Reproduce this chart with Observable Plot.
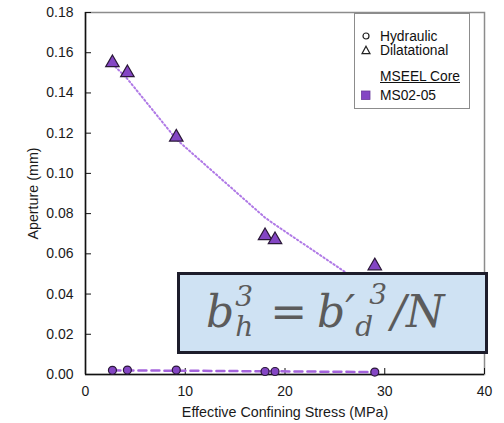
<!DOCTYPE html>
<html>
<head>
<meta charset="utf-8">
<script src="https://cdn.jsdelivr.net/npm/d3@7"></script>
<script src="https://cdn.jsdelivr.net/npm/@observablehq/plot@0.6"></script>
<style>
  html, body { margin: 0; padding: 0; background: #fff; }
  #wrap { position: relative; width: 504px; height: 423px; font-family: "Liberation Sans", Arial, sans-serif; }
  #legend {
    position: absolute; left: 354px; top: 13px; width: 116px; height: 96px;
    border: 1px solid #8c8c8c; background: #fff; font-size: 13.8px; color: #111;
    box-sizing: border-box;
  }
  #legend .row { position: absolute; left: 6px; white-space: nowrap; }
  #legend .sym { display: inline-block; width: 19px; }
  #eq {
    position: absolute; left: 177px; top: 272px; width: 311px; height: 82px;
    box-sizing: border-box; border: 3px solid #1d1d2b; background: #cfe2f3;
    font-family: "DejaVu Serif", serif; font-style: italic; color: #5b5b5b;
    font-size: 44px; line-height: 1;
  }
  #eq .t { position: absolute; left: 26px; top: 15px; white-space: nowrap; }
  #eq .s { position: relative; font-size: 28px; }
</style>
</head>
<body>
<div id="wrap"></div>
<script>
// Effective confining stress (MPa) for each measurement
const stress = [2.7, 4.2, 9.1, 18, 19, 29];
// Hydraulic aperture (mm)
const hydraulic = [0.0021, 0.0022, 0.0022, 0.0015, 0.0015, 0.0012];
// Dilatational aperture (mm)
const dilatational = [0.155, 0.150, 0.118, 0.069, 0.067, 0.054];
// Trend lines evaluated at the same stresses
const dilatationalTrend = [0.1545, 0.147, 0.117, 0.078, 0.0745, 0.041];
const hydraulicTrend = [0.0021, 0.0020, 0.0019, 0.0016, 0.0016, 0.0012];

const xTicks = [0, 10, 20, 30, 40];
const yTicks = [0, 0.02, 0.04, 0.06, 0.08, 0.10, 0.12, 0.14, 0.16, 0.18];

const purple = "#8446c4";
const edge = "#2a1838";

const rows = stress.map((s, i) => ({
  s, h: hydraulic[i], d: dilatational[i], dt: dilatationalTrend[i], ht: hydraulicTrend[i]
}));

const chart = Plot.plot({
  width: 504,
  height: 423,
  marginLeft: 85,
  marginRight: 20,
  marginTop: 12,
  marginBottom: 49,
  style: { fontFamily: "Liberation Sans, Arial, sans-serif", fontSize: "14px", color: "#1a1a1a", background: "#fff" },
  x: { domain: [0, 40] },
  y: { domain: [0, 0.18] },
  marks: [
    Plot.frame({ stroke: "#8c8c8c", strokeWidth: 1.5 }),
    Plot.ruleX([0], { stroke: "#111", strokeWidth: 1.5 }),
    Plot.ruleY([0], { stroke: "#111", strokeWidth: 1.5 }),
    Plot.axisX({ ticks: xTicks, tickSize: -6, tickPadding: 18, stroke: "#111", fontSize: 14,
      label: "Effective Confining Stress (MPa)", labelAnchor: "center", labelArrow: "none", labelOffset: 42 }),
    Plot.axisY({ ticks: yTicks, tickSize: -6, tickPadding: 18, tickFormat: d3.format(".2f"), stroke: "#111", fontSize: 14,
      label: "Aperture (mm)", labelAnchor: "center", labelArrow: "none", labelOffset: 58 }),
    Plot.line(rows, { x: "s", y: "dt", stroke: "#b07ae6", strokeWidth: 2, strokeDasharray: "1.5,2.5" }),
    Plot.line(rows, { x: "s", y: "ht", stroke: "#a463dc", strokeWidth: 2.5, strokeDasharray: "8,5" }),
    Plot.dot(rows, { x: "s", y: "d", symbol: "triangle", r: 5, fill: purple, stroke: edge, strokeWidth: 1.2 }),
    Plot.dot(rows, { x: "s", y: "h", symbol: "circle", r: 4, fill: purple, stroke: edge, strokeWidth: 1.2 })
  ]
});

const wrap = document.getElementById("wrap");
wrap.appendChild(chart);
chart.querySelectorAll("[aria-label$='axis label'] text").forEach(t => t.style.fontSize = "14.3px");

// Legend
const legend = document.createElement("div");
legend.id = "legend";
legend.innerHTML = `
  <div class="row" style="top:15px"><span class="sym"><svg width="10" height="10" viewBox="0 0 10 10"><circle cx="5" cy="5" r="3" fill="none" stroke="#222" stroke-width="1.2"/></svg></span>Hydraulic</div>
  <div class="row" style="top:29px"><span class="sym"><svg width="10" height="10" viewBox="0 0 10 10"><path d="M5,1.2L9,8.6H1Z" fill="none" stroke="#222" stroke-width="1.2"/></svg></span>Dilatational</div>
  <div class="row" style="top:55px; left:25px; text-decoration: underline;">MSEEL Core</div>
  <div class="row" style="top:74px"><span class="sym"><svg width="10" height="10" viewBox="0 0 10 10"><rect x="0.5" y="1" width="8.5" height="8.5" fill="${purple}" stroke="#6a3a9c" stroke-width="0.8"/></svg></span>MS02-05</div>`;
wrap.appendChild(legend);

// Relation between hydraulic and dilatational aperture
const eq = document.createElement("div");
eq.id = "eq";
eq.innerHTML = `<div class="t">b<span style="display:inline-block; position:relative; width:26px; height:10px;"><span class="s" style="position:absolute; left:1px; top:-34px;">3</span><span class="s" style="position:absolute; left:1px; top:-4px;">h</span></span><span style="font-style:normal; margin:0 10px;">=</span>b′<span style="display:inline-block; position:relative; width:36px; height:10px;"><span class="s" style="position:absolute; left:0px; top:-4px;">d</span><span class="s" style="position:absolute; left:14px; top:-36px;">3</span></span>/N</div>`;
wrap.appendChild(eq);
</script>
</body>
</html>
